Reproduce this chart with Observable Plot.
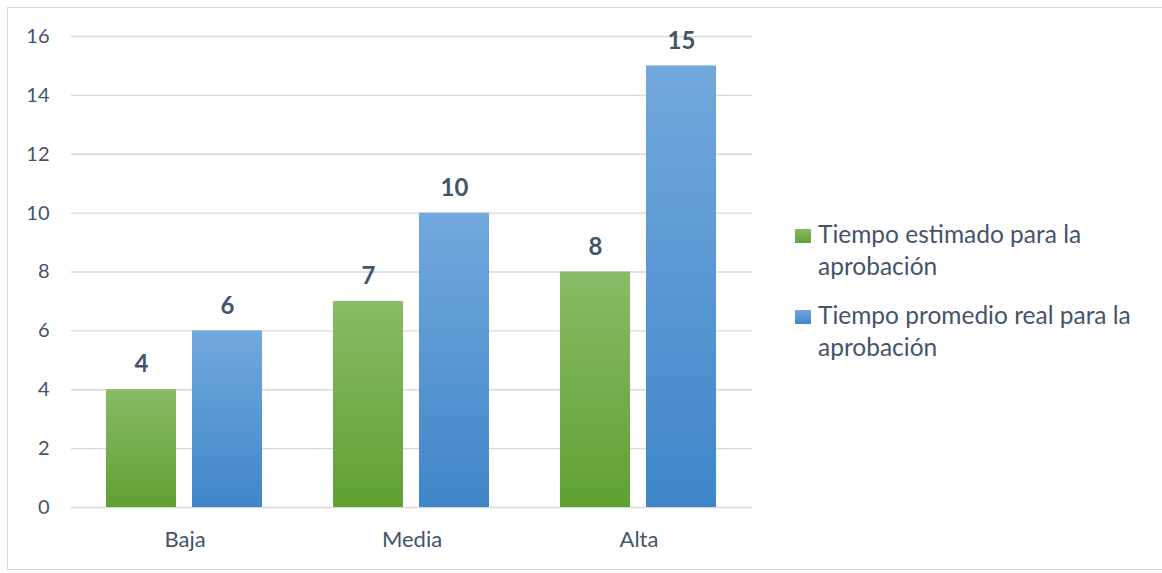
<!DOCTYPE html>
<html>
<head>
<meta charset="utf-8">
<script src="https://cdn.jsdelivr.net/npm/d3@7"></script>
<script src="https://cdn.jsdelivr.net/npm/@observablehq/plot@0.6"></script>
<style>
  html, body { margin: 0; padding: 0; background: #fff; }
  #wrap { position: relative; width: 1162px; height: 573px; overflow: hidden; }
  #frame { position: absolute; left: 7px; top: 7px; width: 1160px; height: 563px; border: 1px solid #d9d9d9; box-sizing: border-box; pointer-events: none; }
  #legend { position: absolute; left: 795px; top: 218px; font-family: Lato, "Open Sans", sans-serif; font-size: 24.5px; color: #44546a; line-height: 32px; }
  .item { position: relative; padding-left: 23px; margin-bottom: 17px; width: 345px; }
  .sw { position: absolute; left: 0; top: 11px; width: 16px; height: 14px; }
</style>
</head>
<body>
<div id="wrap"><div id="frame"></div></div>
<script>
const categories = ["Baja", "Media", "Alta"];
const seriesNames = ["Tiempo estimado para la aprobación", "Tiempo promedio real para la aprobación"];
const estimado = [4, 7, 8];
const real = [6, 10, 15];
const yTicks = [0, 2, 4, 6, 8, 10, 12, 14, 16];

const data = [];
categories.forEach((c, i) => {
  data.push({cat: c, serie: seriesNames[0], value: estimado[i]});
  data.push({cat: c, serie: seriesNames[1], value: real[i]});
});

const textColor = "#44546a";
const font = "Lato, 'Open Sans', sans-serif";

const chart = Plot.plot({
  width: 1162,
  height: 573,
  marginLeft: 71,
  marginRight: 410,
  marginTop: 36,
  marginBottom: 66,
  style: {fontFamily: font, color: textColor, background: "transparent"},
  fx: {domain: categories, padding: 0, axis: null},
  x: {domain: seriesNames, paddingInner: 0.184, paddingOuter: 0.397, axis: null},
  y: {domain: [0, 16], ticks: yTicks, axis: null},
  marks: [
    Plot.gridY(yTicks, {stroke: "#d9d9d9", strokeOpacity: 1, strokeWidth: 1.3}),
    Plot.barY(data, {
      fx: "cat", x: "serie", y: "value",
      fill: d => d.serie === seriesNames[0] ? "url(#gGreen)" : "url(#gBlue)"
    }),
    Plot.text(data, {
      fx: "cat", x: "serie", y: "value", text: d => String(d.value),
      dy: -25, fontWeight: "bold", fontSize: 24, fill: textColor
    }),
    Plot.axisY(yTicks, {
      tickSize: 0, tickPadding: 22, fontSize: 20, fill: textColor, anchor: "left", label: null,
      facetAnchor: "left"
    }),
    Plot.axisFx({
      anchor: "bottom", tickSize: 0, tickPadding: 24, fontSize: 22, fill: textColor, label: null
    })
  ]
});

const svg = d3.select(chart);
const defs = svg.insert("defs", ":first-child");
function grad(id, top, bottom) {
  const g = defs.append("linearGradient").attr("id", id)
    .attr("x1", 0).attr("y1", 0).attr("x2", 0).attr("y2", 1);
  g.append("stop").attr("offset", "0%").attr("stop-color", top);
  g.append("stop").attr("offset", "100%").attr("stop-color", bottom);
}
grad("gGreen", "#88bb66", "#60a032");
grad("gBlue", "#72a8dd", "#3f86c8");

const wrap = document.getElementById("wrap");
chart.style.position = "absolute";
chart.style.left = "0px";
chart.style.top = "0px";
wrap.appendChild(chart);

const legend = document.createElement("div");
legend.id = "legend";
const swatches = ["linear-gradient(#88bb66, #60a032)", "linear-gradient(#72a8dd, #3f86c8)"];
seriesNames.forEach((name, i) => {
  const it = document.createElement("div");
  it.className = "item";
  const sw = document.createElement("span");
  sw.className = "sw";
  sw.style.background = swatches[i];
  it.appendChild(sw);
  it.appendChild(document.createTextNode(name));
  legend.appendChild(it);
});
wrap.appendChild(legend);
</script>
</body>
</html>
